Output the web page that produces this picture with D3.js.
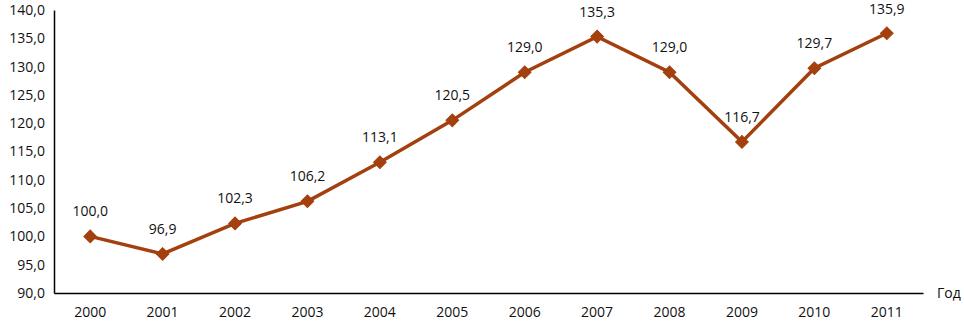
<!DOCTYPE html>
<html><head><meta charset="utf-8">
<script src="https://cdn.jsdelivr.net/npm/d3@7"></script>
<style>body{margin:0;background:#fff}svg{display:block}text{font-family:"Open Sans","Noto Sans",sans-serif;font-size:14px;fill:#111}</style>
</head><body><svg id="c" width="964" height="322"></svg>
<script>
const years = ["2000","2001","2002","2003","2004","2005","2006","2007","2008","2009","2010","2011"];
const values = [100.0,96.9,102.3,106.2,113.1,120.5,129.0,135.3,129.0,116.7,129.7,135.9];
const yTicks = [90,95,100,105,110,115,120,125,130,135,140];
(function(){
const fmt = v => v.toFixed(1).replace(".", ",");
const svg = d3.select("#c");
const mLeft = 54, mRight = 923, mTop = 10, mBottom = 293;
const x = d3.scaleBand().domain(years).range([mLeft, mRight]);
const y = d3.scaleLinear().domain([90,140]).range([mBottom, mTop]);
const color = "#A3400E";
const ya = svg.append("g").attr("transform", `translate(${mLeft},0)`)
  .call(d3.axisLeft(y).tickValues(yTicks).tickFormat(fmt).tickSize(0).tickPadding(9));
const xa = svg.append("g").attr("transform", `translate(0,${mBottom})`)
  .call(d3.axisBottom(x).tickSize(0).tickPadding(14));
[ya, xa].forEach(g => { g.select(".domain").attr("stroke","#000").attr("stroke-width",1.5);
  g.selectAll("text").style("font-family","'Open Sans','Noto Sans',sans-serif").style("font-size","14px").attr("fill","#111"); });
svg.append("text").attr("x", 937).attr("y", mBottom + 5).text("Год");
const cx = d => x(d) + x.bandwidth()/2;
svg.append("path").datum(values).attr("fill","none").attr("stroke",color).attr("stroke-width",3.5)
  .attr("d", d3.line().x((d,i)=>cx(years[i])).y(d=>y(d)));
svg.selectAll(".m").data(values).join("path")
  .attr("transform",(d,i)=>`translate(${cx(years[i])},${y(d)}) rotate(45)`)
  .attr("d", d3.symbol(d3.symbolSquare, 80)).attr("fill",color).attr("stroke",color).attr("stroke-width",1);
svg.selectAll(".lbl").data(values).join("text")
  .attr("x",(d,i)=>cx(years[i])).attr("y",d=>Math.max(14, y(d)-20)).attr("text-anchor","middle").text(fmt);
})();
</script></body></html>
